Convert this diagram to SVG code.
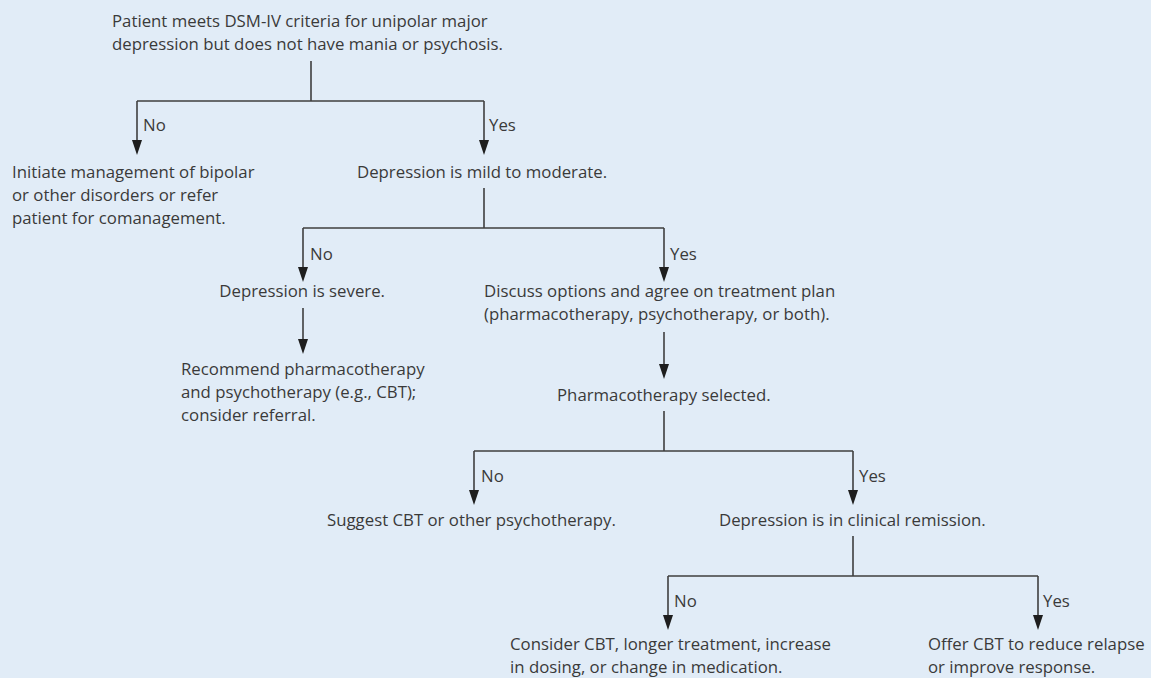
<svg xmlns="http://www.w3.org/2000/svg" width="1151" height="678" viewBox="0 0 1151 678">
<defs>
<style>
text{font-family:"Open Sans","Noto Sans","Liberation Sans",sans-serif;font-size:16.8px;fill:#3a3a3a}
.ln{stroke:#3f3f3f;stroke-width:1.6;fill:none}
.ah{fill:#1e1e1e}
</style>
</defs>
<rect width="1151" height="678" fill="#e1ecf7"/>
<g id="connectors">
<path class="ln" d="M311,61 V101 M137,101 H484"/>
<path class="ln" d="M137,101 V140"/><path class="ah" d="M132,140 H142 L137,155 Z"/>
<path class="ln" d="M484,101 V140"/><path class="ah" d="M479,140 H489 L484,155 Z"/>
<path class="ln" d="M484,188 V228 M303,228 H664"/>
<path class="ln" d="M303,228 V267"/><path class="ah" d="M298,267 H308 L303,282 Z"/>
<path class="ln" d="M664,228 V267"/><path class="ah" d="M659,267 H669 L664,282 Z"/>
<path class="ln" d="M303,308 V339"/><path class="ah" d="M298,339 H308 L303,354 Z"/>
<path class="ln" d="M664,332 V364"/><path class="ah" d="M659,364 H669 L664,379 Z"/>
<path class="ln" d="M664,411 V451 M474,451 H853"/>
<path class="ln" d="M474,451 V490"/><path class="ah" d="M469,490 H479 L474,505 Z"/>
<path class="ln" d="M853,451 V490"/><path class="ah" d="M848,490 H858 L853,505 Z"/>
<path class="ln" d="M853,536 V576 M668,576 H1038"/>
<path class="ln" d="M668,576 V615"/><path class="ah" d="M663,615 H673 L668,630 Z"/>
<path class="ln" d="M1038,576 V615"/><path class="ah" d="M1033,615 H1043 L1038,630 Z"/>
<text x="143" y="131">No</text>
<text x="489" y="131">Yes</text>
<text x="310" y="260">No</text>
<text x="670" y="260">Yes</text>
<text x="481" y="482">No</text>
<text x="859" y="482">Yes</text>
<text x="674" y="607">No</text>
<text x="1043" y="607">Yes</text>
</g>
<g id="n1"><text x="112" y="27">Patient meets DSM-IV criteria for unipolar major</text><text x="112" y="50">depression but does not have mania or psychosis.</text></g>
<g id="n2"><text x="12" y="178">Initiate management of bipolar</text><text x="12" y="201">or other disorders or refer</text><text x="12" y="224">patient for comanagement.</text></g>
<g id="n3"><text x="357" y="178">Depression is mild to moderate.</text></g>
<g id="n4"><text x="385" y="297" text-anchor="end">Depression is severe.</text></g>
<g id="n5"><text x="484" y="297">Discuss options and agree on treatment plan</text><text x="484" y="320">(pharmacotherapy, psychotherapy, or both).</text></g>
<g id="n6"><text x="181" y="375">Recommend pharmacotherapy</text><text x="181" y="398">and psychotherapy (e.g., CBT);</text><text x="181" y="421">consider referral.</text></g>
<g id="n7"><text x="557" y="401">Pharmacotherapy selected.</text></g>
<g id="n8"><text x="327" y="526">Suggest CBT or other psychotherapy.</text></g>
<g id="n9"><text x="719" y="526">Depression is in clinical remission.</text></g>
<g id="n10"><text x="510" y="650">Consider CBT, longer treatment, increase</text><text x="510" y="673">in dosing, or change in medication.</text></g>
<g id="n11"><text x="928" y="650">Offer CBT to reduce relapse</text><text x="928" y="673">or improve response.</text></g>
</svg>
